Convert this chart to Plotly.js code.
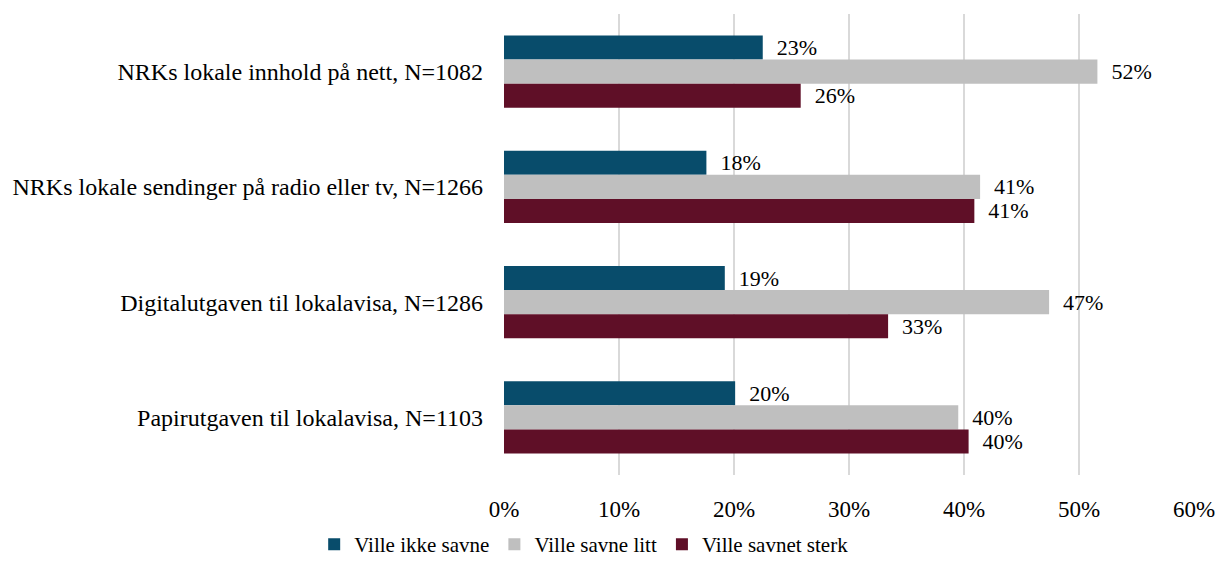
<!DOCTYPE html>
<html>
<head>
<meta charset="utf-8">
<script src="https://cdn.plot.ly/plotly-3.0.1.min.js"></script>
<style>html,body{margin:0;padding:0;background:#fff;}#chart{width:1216px;height:565px;}</style>
</head>
<body>
<div id="chart"></div>
<script>
const categories = [
  "NRKs lokale innhold på nett, N=1082",
  "NRKs lokale sendinger på radio eller tv, N=1266",
  "Digitalutgaven til lokalavisa, N=1286",
  "Papirutgaven til lokalavisa, N=1103"
];
const seriesNames = ["Ville ikke savne", "Ville savne litt", "Ville savnet sterk"];
const villeIkkeSavne = [22.5, 17.6, 19.2, 20.1];
const villeSavneLitt = [51.6, 41.4, 47.4, 39.5];
const villeSavnetSterk = [25.8, 40.9, 33.4, 40.4];
const tickVals = [0, 10, 20, 30, 40, 50, 60];
const tickText = ["0%", "10%", "20%", "30%", "40%", "50%", "60%"];

const colors = ["#084C6B", "#BFBFBF", "#5F0F27"];
const font = "Liberation Serif";
const nb = "\u00a0\u00a0";

const seriesData = [villeIkkeSavne, villeSavneLitt, villeSavnetSterk];
const traces = seriesData.map((vals, i) => ({
  type: "bar",
  orientation: "h",
  name: seriesNames[i],
  y: categories,
  x: vals,
  marker: {color: colors[i]},
  text: vals.map(v => nb + Math.round(v) + "%"),
  textposition: "outside",
  constraintext: "none",
  cliponaxis: false,
  textfont: {family: font, size: 22, color: "#000"},
  hoverinfo: "skip"
}));

const layout = {
  width: 1216,
  height: 565,
  margin: {l: 504, r: 22, t: 14, b: 90},
  barmode: "group",
  bargap: 0.374,
  bargroupgap: 0,
  paper_bgcolor: "#fff",
  plot_bgcolor: "#fff",
  font: {family: font, size: 21, color: "#000"},
  showlegend: true,
  legend: {
    orientation: "h",
    xref: "container",
    yref: "container",
    x: 0.480, xanchor: "center",
    y: -0.011, yanchor: "bottom",
    font: {family: font, size: 21, color: "#000"},
    traceorder: "normal"
  },
  xaxis: {
    range: [0, 60],
    tickvals: tickVals,
    ticktext: tickText,
    showgrid: true,
    gridcolor: "#D9D9D9",
    gridwidth: 1.5,
    zeroline: false,
    showline: false,
    ticks: "",
    automargin: false,
    ticklabelstandoff: 18,
    tickfont: {family: font, size: 23, color: "#000"},
    fixedrange: true
  },
  yaxis: {
    range: [3.5, -0.5],
    showgrid: false,
    zeroline: false,
    showline: false,
    ticks: "",
    automargin: false,
    ticklabelstandoff: 20,
    tickfont: {family: font, size: 24, color: "#000"},
    fixedrange: true
  }
};

Plotly.newPlot("chart", traces, layout, {displayModeBar: false, staticPlot: true});
</script>
</body>
</html>
